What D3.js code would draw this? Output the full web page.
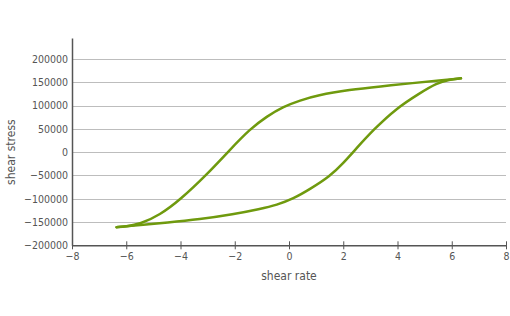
<!DOCTYPE html>
<html>
<head>
<meta charset="utf-8">
<script src="https://cdn.jsdelivr.net/npm/d3@7"></script>
<style>
  body { margin: 0; background: #fff; }
  text { font-family: "DejaVu Sans Condensed", "DejaVu Sans", sans-serif; }
</style>
</head>
<body>
<div id="chart"></div>
<script>
// hysteresis loop, two branches (both listed left to right)
const lowerRate = [-6.36, -5.5, -4.5, -3.3, -2.05, -1.07, -0.45, 0.16, 0.77, 1.51, 2.0, 2.44, 3.11, 3.97, 4.83, 5.45, 5.9, 6.34];
const lowerStress = [-161000, -156500, -151400, -144200, -133500, -122000, -113500, -100000, -79600, -52000, -23700, 5000, 48000, 94600, 126900, 148400, 155500, 158500];
const upperRate = [-6.36, -6.0, -5.5, -4.76, -4.02, -3.04, -2.18, -1.44, -0.82, -0.2, 0.41, 1.02, 2.25, 3.36, 4.59, 5.57, 6.34];
const upperStress = [-161000, -159500, -154800, -134800, -102600, -48800, 5000, 49500, 76600, 98000, 111000, 121700, 134000, 141100, 148400, 154100, 158500];
const xTicks = [-8, -6, -4, -2, 0, 2, 4, 6, 8];
const yTicks = [-200000, -150000, -100000, -50000, 0, 50000, 100000, 150000, 200000];

const W = 510, H = 316;
const svg = d3.select("#chart").append("svg")
  .attr("width", W).attr("height", H);

const x = d3.scaleLinear().domain([-8, 8]).range([72, 506]);
const y = d3.scaleLinear().domain([-200000, 245000]).range([245.3, 38]);

// gridlines
svg.append("g")
  .selectAll("line")
  .data(yTicks.filter(d => d > -200000))
  .join("line")
  .attr("x1", x(-8)).attr("x2", x(8))
  .attr("y1", d => Math.round(y(d)) + 0.5).attr("y2", d => Math.round(y(d)) + 0.5)
  .attr("stroke", "#bdbdbd").attr("stroke-width", 1);

// y axis
const yAxis = svg.append("g")
  .attr("transform", `translate(${x(-8)},0)`)
  .call(d3.axisLeft(y).tickValues(yTicks).tickFormat(d3.format("d")).tickSize(0).tickPadding(4));
yAxis.select(".domain").attr("stroke", "#555").attr("stroke-width", 1.5);
yAxis.selectAll("text").attr("fill", "#555").attr("font-size", "10.5px")
  .attr("font-family", "DejaVu Sans Condensed, DejaVu Sans, sans-serif");

// x axis
const xAxis = svg.append("g")
  .attr("transform", `translate(0,${y(-200000)})`)
  .call(d3.axisBottom(x).tickValues(xTicks).tickFormat(d3.format("d")).tickSizeInner(4).tickSizeOuter(0).tickPadding(3));
xAxis.select(".domain").attr("stroke", "#555").attr("stroke-width", 1.5);
xAxis.selectAll(".tick line").attr("stroke", "#555").attr("y1", -4).attr("y2", 4);
xAxis.selectAll("text").attr("fill", "#555").attr("font-size", "10.5px")
  .attr("font-family", "DejaVu Sans Condensed, DejaVu Sans, sans-serif");

// axis titles
svg.append("text")
  .attr("x", x(0)).attr("y", 280)
  .attr("text-anchor", "middle")
  .attr("font-size", "12px").attr("fill", "#555")
  .text("shear rate");

svg.append("text")
  .attr("transform", `translate(15,${y(0)}) rotate(-90)`)
  .attr("text-anchor", "middle")
  .attr("font-size", "12px").attr("fill", "#555")
  .text("shear stress");

// curve branches
const line = d3.line()
  .x(d => x(d[0]))
  .y(d => y(d[1]))
  .curve(d3.curveBasis);

const branches = [
  lowerRate.map((r, i) => [r, lowerStress[i]]),
  upperRate.map((r, i) => [r, upperStress[i]])
];

svg.append("g")
  .selectAll("path")
  .data(branches)
  .join("path")
  .attr("fill", "none")
  .attr("stroke", "#6f9a0e")
  .attr("stroke-width", 2.5)
  .attr("stroke-linecap", "round")
  .attr("d", line);
</script>
</body>
</html>
